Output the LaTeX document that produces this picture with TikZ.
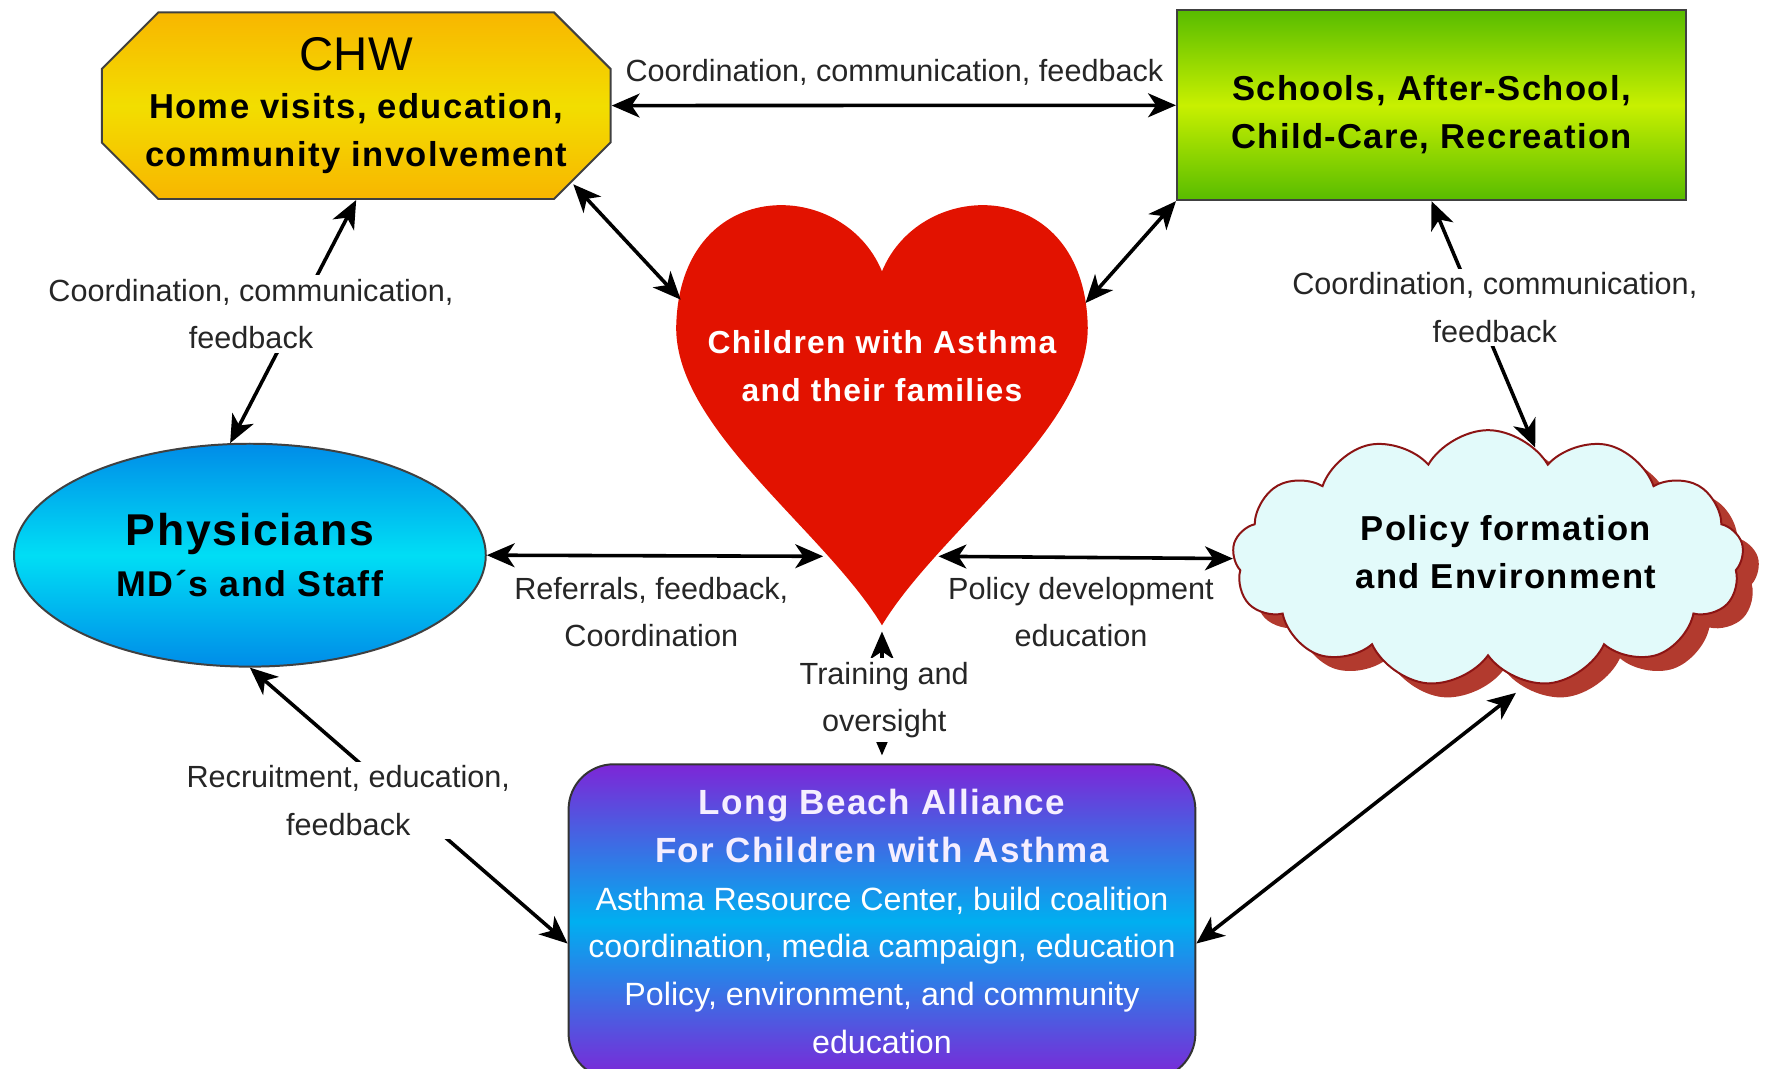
\documentclass[tikz,border=0pt]{standalone}
\usepackage{fontspec}
\setmainfont{Liberation Sans}
\newfontfamily\wide[LetterSpace=4]{Liberation Sans}
\usetikzlibrary{shapes.geometric,shapes.symbols,shadows,arrows.meta}
\definecolor{chwtop}{RGB}{248,182,0}
\definecolor{chwmid}{RGB}{242,222,0}
\definecolor{schooltop}{RGB}{88,188,0}
\definecolor{schoolmid}{RGB}{200,240,0}
\definecolor{physout}{RGB}{0,140,232}
\definecolor{physmid}{RGB}{0,222,245}
\definecolor{heartred}{RGB}{226,18,0}
\definecolor{cloudfill}{RGB}{226,250,250}
\definecolor{cloudline}{RGB}{140,20,20}
\definecolor{cloudshadow}{RGB}{178,58,46}
\definecolor{lbaout}{RGB}{125,38,215}
\definecolor{lbamid}{RGB}{0,175,240}
\definecolor{lbatext}{RGB}{245,238,255}
\newcommand\bigTitle[2]{{\wide\bfseries\fontsize{#1}{12}\selectfont #2}}
\begin{document}
\begin{tikzpicture}[x=0.01cm, y=-0.01cm, >={Stealth[length=7pt,width=6pt,inset=2pt]},
  head/.style={font=\wide\bfseries\fontsize{8.7}{12}\selectfont, align=center, draw=black!75, line width=0.5pt},
  chw shade/.style={top color=chwtop, bottom color=chwtop, middle color=chwmid, draw=black!75, line width=0.5pt},
  chw box/.style={head, draw=none, minimum width=4.5cm, minimum height=1.65cm},
  school box/.style={head, rectangle, minimum width=4.5cm, minimum height=1.68cm, top color=schooltop, bottom color=schooltop, middle color=schoolmid},
  phys node/.style={head, ellipse, minimum width=4.17cm, minimum height=1.97cm, font=\wide\bfseries\fontsize{9}{12.8}\selectfont, top color=physout, bottom color=physout, middle color=physmid},
  policy node/.style={head, cloud, cloud puffs=13, cloud puff arc=120, aspect=2, cloud ignores aspect, inner sep=0pt, minimum width=4.52cm, minimum height=2.27cm, draw=cloudline, fill=cloudfill, drop shadow={shadow xshift=4pt, shadow yshift=-3.5pt, fill=cloudshadow, opacity=1}},
  lba box/.style={align=center, rounded corners=0.4cm, draw=black!80, line width=0.5pt, minimum width=5.54cm, minimum height=2.78cm, text=white, font=\fontsize{8.1}{12}\selectfont, top color=lbaout, bottom color=lbaout, middle color=lbamid},
  link/.style={<->, line width=0.9pt},
  lbl/.style={fill=white, inner sep=1pt, align=center, text=black!85, font=\fontsize{7.7}{11.9}\selectfont}]
\useasboundingbox (0,0) rectangle (1568,945.4);
% heart
\fill[heartred] (780,240) .. controls (745,155) and (600,155) .. (598,290)
  .. controls (598,380) and (730,470) .. (780,553)
  .. controls (830,470) and (962,380) .. (962,290)
  .. controls (960,155) and (815,155) .. (780,240);
\node[head, draw=none, text=white, font=\wide\bfseries\fontsize{8}{12}\selectfont] (heart) at (780,324) {Children with Asthma\\and their families};
\coordinate (hUL) at (602,265);
\coordinate (hUR) at (960,268);
\coordinate (hL) at (728,492);
\coordinate (hR) at (830,492);
\coordinate (hB) at (780,555);
% CHW octagon
\shade[chw shade] (140,11) -- (490,11) -- (540,61) -- (540,126) -- (490,176) -- (140,176) -- (90,126) -- (90,61) -- cycle;
\node[chw box] (chw) at (315,93.5) {{\normalfont\fontsize{11.9}{14}\selectfont CHW}\\Home visits, education,\\community involvement};
\coordinate (chwSE) at (507,163);
\node[school box] (school) at (1266,93) {\rule{0pt}{11pt}Schools, After-School,\\Child-Care, Recreation};
\node[phys node] (phys) at (221,491) {\bigTitle{11.2}{Physicians}\\MD´s and Staff};
\node[policy node] (cloud) at (1316,494) {\hspace*{9pt}Policy formation\\\hspace*{9pt}and Environment\rule[-3.5pt]{0pt}{5pt}};
\node[lba box] (lba) at (780,815) {\bigTitle{8.8}{\color{lbatext}Long Beach Alliance}\\\bigTitle{8.8}{\color{lbatext}For Children with Asthma}\\Asthma Resource Center, build coalition\\coordination, media campaign, education\\Policy, environment, and community\\education};
% connectors
\draw[link] (chw) -- (school);
\draw[link] (chwSE) -- (hUL);
\draw[link] (school.south west) -- (hUR);
\draw[link] (chw.south) -- (phys.100);
\draw[link] (school.south) -- (cloud.67);
\draw[link] (phys.east) -- (hL);
\draw[link] (hR) -- (cloud.west);
\draw[link, shorten <=1pt, shorten >=2pt] (hB) -- (lba.north);
\draw[link] (phys.south) -- (lba.184);
\draw[link, shorten <=4pt] (cloud.-72) -- (lba.-4);
% labels
\node[lbl] (l1) at (791,64) {Coordination, communication, feedback};
\node[lbl] (l2) at (222,278) {Coordination, communication,\\feedback};
\node[lbl] (l3) at (1322,272) {Coordination, communication,\\feedback};
\node[lbl] (l4) at (576,541) {Referrals, feedback,\\Coordination};
\node[lbl] (l5) at (956,541) {Policy development\\education};
\node[lbl] (l6) at (782,619) {Training and\\oversight};
\node[lbl] (l7) at (308,708) {Recruitment, education,\\feedback};
\end{tikzpicture}
\end{document}
